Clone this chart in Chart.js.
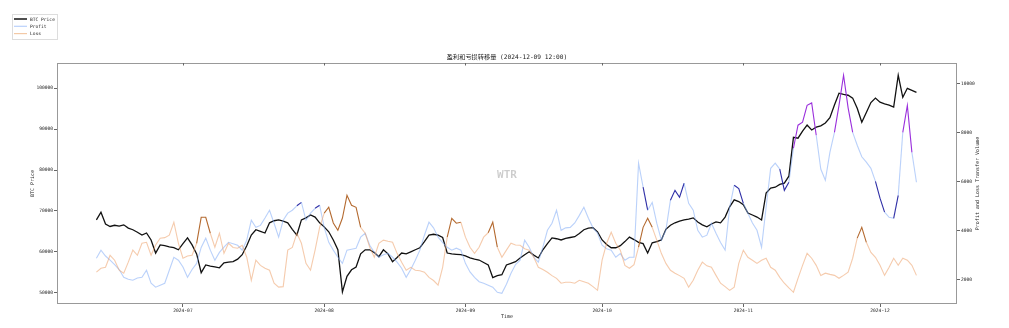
<!DOCTYPE html>
<html>
<head>
<meta charset="utf-8">
<script src="https://cdn.jsdelivr.net/npm/chart.js@4.4.1/dist/chart.umd.min.js"></script>
<style>
  html, body { margin: 0; padding: 0; background: #fff; }
  #wrap { width: 1009px; height: 328px; }
</style>
</head>
<body>
<div id="wrap"><canvas id="chart" width="1009" height="328"></canvas></div>
<script>
// daily series, first value on startDay
const startDay = '2024-06-12';

const btcPrice = [
  67800, 69700, 66800, 66200, 66500, 66300, 66600, 65800, 65400, 64800,
  64100, 64600, 62900, 59700, 61700, 61500, 61200, 61000, 60500, 62000,
  63400, 61700, 59500, 54900, 56800, 56500, 56300, 56100, 57300, 57500,
  57600, 58200, 59300, 61500, 64100, 65400, 65000, 64600, 67100, 67600,
  67800, 67500, 67100, 65500, 64100, 67800, 68300, 69000, 68500, 67100,
  66100, 64900, 62900, 60500, 50200, 54000, 55600, 56300, 59500, 60500,
  60500, 59800, 58800, 60500, 59500, 57600, 58600, 59700, 59500, 60000,
  60500, 61000, 62500, 64100, 64300, 64100, 63500, 59700, 59500, 59400,
  59300, 59000, 58500, 58200, 58000, 57400, 56800, 53700, 54200, 54400,
  56800, 57200, 57600, 58500, 59300, 60000, 59200, 58500, 60500, 62000,
  63400, 63200, 62900, 63300, 63500, 63700, 64500, 65400, 65800, 65900,
  64900, 62900, 61800, 61000, 61000, 61500, 62500, 63600, 63000, 62300,
  62000, 59700, 62200, 62500, 62900, 65500, 66500, 67100, 67500, 67800,
  68000, 68300, 67300, 66600, 66100, 66800, 67300, 67100, 68500, 71000,
  72700, 72300, 71500, 69500, 69000, 68500, 67800, 74400, 75600, 75800,
  76500, 76800, 78500, 88000, 87800, 89500, 91000, 89800, 90500, 90800,
  91500, 92800, 95900, 98800, 98500, 98300, 97600, 95100, 91700, 94100,
  96500, 97600, 96600, 96200, 95900, 95400, 103200, 97800, 100000, 99500,
  99000
];

const profitVolume = [
  2860, 3190, 2950, 2780, 2600, 2400, 2080, 2000, 1960, 2050,
  2080, 2370, 1840, 1680, 1760, 1840, 2370, 2900, 2780, 2500,
  2080, 2400, 2650, 3300, 3680, 3190, 2780, 3100, 3310, 3510,
  3450, 3390, 3190, 3600, 4410, 4120, 4200, 4500, 4820, 4290,
  3720, 4410, 4700, 4820, 5000, 5140, 4410, 4700, 4900, 5020,
  4120, 3510, 3190, 2900, 2650, 3190, 3230, 3270, 3720, 3880,
  3390, 3100, 2900, 3000, 3060, 2900, 2700, 2450, 2080, 2400,
  2780, 3190, 3800, 4330, 4100, 3720, 3500, 3310, 3190, 3270,
  3190, 2650, 2300, 2080, 1900, 1840, 1760, 1680, 1470, 1430,
  1800, 2250, 2600, 2780, 3600, 3310, 2900, 2700, 3310, 4000,
  4290, 4820, 4000, 4100, 4120, 4300, 4610, 4940, 4490, 4100,
  3880, 3390, 3250, 3190, 2900, 3050, 2780, 2900, 2900, 6740,
  5760, 4820, 5140, 4290, 3600, 4000, 5230, 5630, 5350, 5920,
  5100, 4820, 4000, 3720, 3800, 4290, 3880, 3500, 3190, 4940,
  5840, 5700, 5100, 4700, 4300, 4000, 3310, 4940, 6530, 6740,
  6500, 5630, 5960, 7350, 8290, 8410, 9100, 9200, 7880, 6500,
  6040, 7180, 8000, 9100, 10330, 9000, 8000, 7470, 7000, 6780,
  6530, 6000, 5310, 4740, 4530, 4490, 5430, 8000, 9100, 7180,
  5960
];

const lossVolume = [
  2290, 2450, 2490, 2980, 2780, 2370, 2250, 2700, 3190, 2980,
  3470, 3510, 2980, 3400, 3680, 3700, 3800, 4330, 3470, 2860,
  2950, 2980, 3470, 4530, 4530, 3880, 3310, 3880, 3060, 3470,
  3300, 3270, 3390, 2900, 1960, 2780, 2570, 2450, 2370, 1840,
  1680, 1700, 3190, 3300, 3880, 3470, 2650, 2370, 3190, 4120,
  4700, 4940, 4300, 4000, 4500, 5430, 5020, 4940, 4120, 3880,
  3310, 2900, 3470, 3600, 3550, 3510, 3060, 2700, 2370, 2490,
  2370, 2350, 2290, 2080, 1950, 1760, 2490, 3720, 4490, 4290,
  4330, 3720, 3310, 3060, 3310, 3720, 3900, 4330, 3310, 2900,
  3190, 3470, 3400, 3390, 3250, 3190, 2900, 2490, 2400, 2290,
  2150, 2040, 1840, 1880, 1880, 1840, 1960, 1900, 1840, 1700,
  1550, 2780, 3470, 3920, 3470, 3190, 2570, 2450, 2600, 3310,
  4120, 4490, 4120, 3600, 3060, 2650, 2370, 2250, 2150, 2040,
  1680, 1960, 2370, 2700, 2550, 2490, 2160, 1840, 1700, 1550,
  1680, 2650, 3190, 2900, 2780, 2650, 2780, 2860, 2490, 2370,
  2080, 1840, 1650, 1470, 2040, 2570, 3060, 2860, 2570, 2160,
  2250, 2200, 2160, 2040, 2160, 2290, 2860, 3680, 4120, 3510,
  3100, 2900, 2570, 2160, 2490, 2860, 2570, 2860, 2780, 2570,
  2160
];

// stretches of the lines drawn in a stronger colour
const profitBlueSpans = [
  ['2024-07-26', '2024-07-27'], ['2024-07-30', '2024-07-31'],
  ['2024-10-10', '2024-10-11'], ['2024-10-16', '2024-10-19'],
  ['2024-10-30', '2024-11-01'], ['2024-11-09', '2024-11-11'],
  ['2024-11-30', '2024-12-02'], ['2024-12-04', '2024-12-05']
];
const profitPurpleSpans = [
  ['2024-11-12', '2024-11-17'], ['2024-11-21', '2024-11-25'],
  ['2024-12-06', '2024-12-08']
];
const lossBrownSpans = [
  ['2024-07-04', '2024-07-07'], ['2024-08-01', '2024-08-09'],
  ['2024-08-28', '2024-08-31'], ['2024-09-06', '2024-09-08'],
  ['2024-10-09', '2024-10-12'], ['2024-11-26', '2024-11-28']
];

const monthTicks = ['2024-07', '2024-08', '2024-09', '2024-10', '2024-11', '2024-12'];
const priceTicks = [50000, 60000, 70000, 80000, 90000, 100000];
const volumeTicks = [2000, 4000, 6000, 8000, 10000];

const titleText = '盈利和亏损转移量 (2024-12-09 12:00)';
const legendItems = [
  { label: 'BTC Price', color: '#222', width: 1.6 },
  { label: 'Profit', color: '#b9d1fb', width: 1.2 },
  { label: 'Loss', color: '#f3c9a6', width: 1.2 }
];

const MONO = "'DejaVu Sans Mono', 'Noto Sans CJK SC', monospace";

function dayIndex(s) {
  const p = s.split('-').map(Number);
  const t0 = startDay.split('-').map(Number);
  return (Date.UTC(p[0], p[1] - 1, p[2] || 1) - Date.UTC(t0[0], t0[1] - 1, t0[2])) / 864e5;
}

function toPoints(arr) {
  return arr.map((v, i) => ({ x: i, y: v }));
}

function spanColor(spans, color, base) {
  const ranges = spans.map(s => [dayIndex(s[0]), dayIndex(s[1])]);
  return ctx => {
    for (const [a, b] of ranges) {
      if (ctx.p0DataIndex >= a && ctx.p1DataIndex <= b) return color;
    }
    return base;
  };
}

function profitColor(ctx) {
  const purple = spanColor(profitPurpleSpans, '#9a2fdc', null)(ctx);
  if (purple) return purple;
  return spanColor(profitBlueSpans, '#2e2ea6', 'rgba(130,172,246,0.55)')(ctx);
}

// frame, title, legend, axis titles and watermark
const decor = {
  id: 'decor',
  afterDraw(chart) {
    const c = chart.ctx;
    const a = chart.chartArea;
    c.save();

    c.strokeStyle = '#999';
    c.lineWidth = 1;
    c.strokeRect(Math.round(a.left) + 0.5, Math.round(a.top) + 0.5,
      Math.round(a.right - a.left) - 1, Math.round(a.bottom - a.top) - 1);

    // small inner ticks along the top edge
    const xs = chart.scales.x;
    c.strokeStyle = '#666';
    monthTicks.forEach(m => {
      const px = Math.round(xs.getPixelForValue(dayIndex(m))) + 0.5;
      c.beginPath();
      c.moveTo(px, a.top);
      c.lineTo(px, a.top + 2.5);
      c.stroke();
    });

    c.fillStyle = '#222';
    c.textAlign = 'center';
    c.textBaseline = 'middle';
    c.font = '6.2px ' + MONO;
    c.fillText(titleText, (a.left + a.right) / 2, 57);

    c.font = '5px ' + MONO;
    c.fillText('Time', (a.left + a.right) / 2, 316.5);

    c.save();
    c.translate(33, (a.top + a.bottom) / 2);
    c.rotate(-Math.PI / 2);
    c.fillText('BTC Price', 0, 0);
    c.restore();

    c.save();
    c.translate(978, (a.top + a.bottom) / 2);
    c.rotate(-Math.PI / 2);
    c.fillText('Profit and Loss Transfer Volume', 0, 0);
    c.restore();

    c.font = 'bold 11px ' + MONO;
    c.fillStyle = 'rgba(0,0,0,0.2)';
    c.fillText('WTR', 507, 175.5);

    // legend box in the top-left corner
    c.fillStyle = '#fff';
    c.strokeStyle = '#ddd';
    c.fillRect(12, 14, 45, 25);
    c.strokeRect(12.5, 14.5, 45, 25);
    c.textAlign = 'left';
    c.font = '4.6px ' + MONO;
    legendItems.forEach((it, k) => {
      const y = 19 + k * 7.3;
      c.strokeStyle = it.color;
      c.lineWidth = it.width;
      c.beginPath();
      c.moveTo(14, y);
      c.lineTo(27, y);
      c.stroke();
      c.fillStyle = '#222';
      c.fillText(it.label, 30, y + 0.3);
    });

    c.restore();
  }
};

const tickFont = { family: MONO, size: 4.6 };
const tickGrid = { drawOnChartArea: false, drawTicks: true, tickLength: 3, color: '#666' };

new Chart(document.getElementById('chart'), {
  type: 'line',
  data: {
    datasets: [
      {
        label: 'BTC Price',
        data: toPoints(btcPrice),
        yAxisID: 'y',
        borderColor: '#111',
        borderWidth: 1.3,
        order: 3
      },
      {
        label: 'Profit',
        data: toPoints(profitVolume),
        yAxisID: 'y1',
        borderColor: 'rgba(130,172,246,0.55)',
        borderWidth: 1.1,
        segment: { borderColor: profitColor },
        order: 2
      },
      {
        label: 'Loss',
        data: toPoints(lossVolume),
        yAxisID: 'y1',
        borderColor: 'rgba(236,160,105,0.55)',
        borderWidth: 1.1,
        segment: { borderColor: spanColor(lossBrownSpans, '#b46a30', 'rgba(236,160,105,0.55)') },
        order: 1
      }
    ]
  },
  options: {
    responsive: false,
    animation: false,
    devicePixelRatio: 1,
    layout: { padding: { top: 63, left: 0, right: 0, bottom: 0 } },
    elements: { point: { radius: 0 }, line: { tension: 0 } },
    plugins: {
      legend: { display: false },
      title: { display: false },
      tooltip: { enabled: false }
    },
    scales: {
      x: {
        type: 'linear',
        min: -8.65,
        max: 188.9,
        grid: tickGrid,
        border: { display: false },
        afterBuildTicks: s => { s.ticks = monthTicks.map(m => ({ value: dayIndex(m) })); },
        afterFit: s => { s.height = 24; },
        ticks: {
          font: tickFont,
          color: '#222',
          padding: 1,
          maxRotation: 0,
          autoSkip: false,
          callback: v => monthTicks.find(m => dayIndex(m) === v) || ''
        }
      },
      y: {
        position: 'left',
        min: 47237,
        max: 106186,
        grid: tickGrid,
        border: { display: false },
        afterBuildTicks: s => { s.ticks = priceTicks.map(v => ({ value: v })); },
        afterFit: s => { s.width = 57; },
        ticks: { font: tickFont, color: '#222', padding: 1, callback: v => String(v) }
      },
      y1: {
        position: 'right',
        min: 992,
        max: 10829,
        grid: tickGrid,
        border: { display: false },
        afterBuildTicks: s => { s.ticks = volumeTicks.map(v => ({ value: v })); },
        afterFit: s => { s.width = 52; },
        ticks: { font: tickFont, color: '#222', padding: 1, callback: v => String(v) }
      }
    }
  },
  plugins: [decor]
});
</script>
</body>
</html>
